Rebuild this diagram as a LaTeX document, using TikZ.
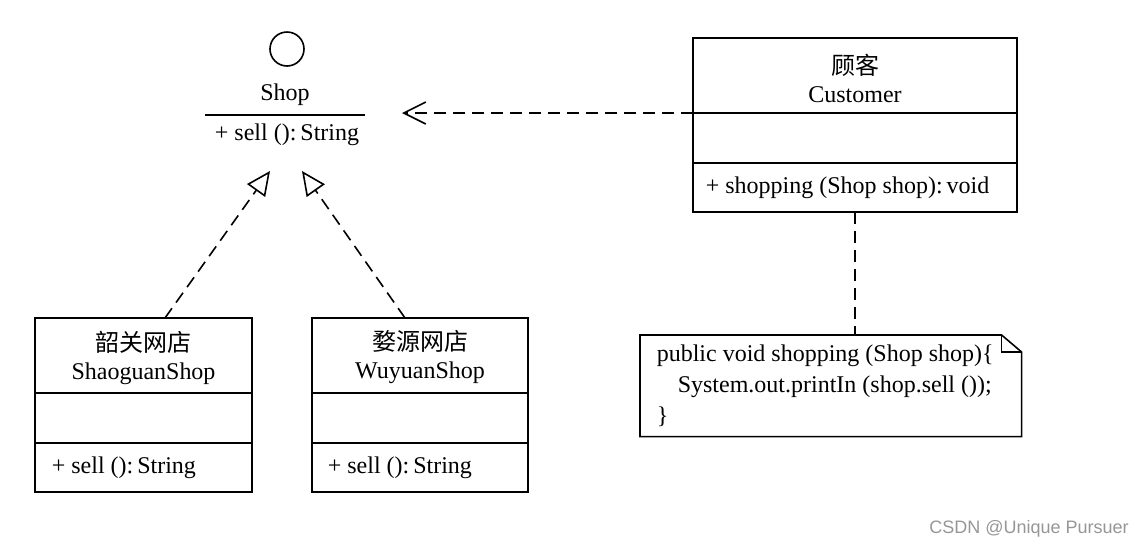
\documentclass[tikz,border=0pt]{standalone}
\usepackage{fontspec}
\setmainfont{Liberation Serif}
\newfontfamily\cjk{Noto Sans CJK SC}
\newfontfamily\wmfont{Liberation Sans}
\usetikzlibrary{arrows.meta}
\definecolor{wmgray}{RGB}{150,150,150}

\begin{document}
\begin{tikzpicture}[x=0.5pt,y=-0.5pt,
    line width=0.8pt,
    font=\fontsize{12}{14}\selectfont,
    classpart/.style ={draw, rectangle, anchor=north west, inner sep=0pt, outer sep=0pt},
    classname/.style ={align=center, inner sep=0pt},
    member/.style ={anchor=west, inner sep=0pt},
    dashline/.style ={dash pattern=on 6pt off 3.5pt},
    realizes/.style ={dashline, -{Triangle[open,length=12pt,width=11pt]}},
    depends/.style ={dashline, -{Straight Barb[length=11pt,width=11pt]}}]
   \useasboundingbox (0,0) rectangle (1148,547);

   % interface Shop
   \node[draw, circle, minimum size=17pt, inner sep=0pt] (shopIcon) at (287,49) {};
   \node[classname] (shopName) at (285,95) {Shop};
   \coordinate (barL) at (205,115);
   \coordinate (barR) at (365,115);
   \draw (barL) -- (barR);
   \node[classname] (shopOps) at (287,135) {+ sell ():\,String};
   \coordinate (shopLeft) at (270,171);
   \coordinate (shopRight) at (302,171);
   \coordinate (shopDep) at (402,113);

   % Customer
   \node[classpart, minimum width=162pt, minimum height=37.5pt] (custTitle) at (693,38)  {};
   \node[classpart, minimum width=162pt, minimum height=25pt] (custAttr) at (693,113)  {};
   \node[classpart, minimum width=162pt, minimum height=24.5pt] (custOps) at (693,163)  {};
   \node[classname] at ([yshift=-1.5pt]custTitle.center) {{\cjk 顾客}\\Customer};
   \node[member] at ([xshift=6pt]custOps.west) {+ shopping (Shop shop):\,void};

   % ShaoguanShop
   \node[classpart, minimum width=108.5pt, minimum height=37.5pt] (sgTitle) at (35,318)  {};
   \node[classpart, minimum width=108.5pt, minimum height=25pt] (sgAttr) at (35,393)  {};
   \node[classpart, minimum width=108.5pt, minimum height=24.5pt] (sgOps) at (35,443)  {};
   \node[classname] at ([yshift=-1pt]sgTitle.center) {{\cjk 韶关网店}\\ShaoguanShop};
   \node[member] at ([xshift=8pt]sgOps.west) {+ sell ():\,String};
   \coordinate (sgTop) at (165,318);

   % WuyuanShop
   \node[classpart, minimum width=108pt, minimum height=37.5pt] (wyTitle) at (312,318)  {};
   \node[classpart, minimum width=108pt, minimum height=25pt] (wyAttr) at (312,393)  {};
   \node[classpart, minimum width=108pt, minimum height=24.5pt] (wyOps) at (312,443)  {};
   \node[classname] at ([yshift=-1pt]wyTitle.center) {{\cjk 婺源网店}\\WuyuanShop};
   \node[member] at ([xshift=7.5pt]wyOps.west) {+ sell ():\,String};
   \coordinate (wyTop) at (405,318);

   % note
   \node[anchor=north west, minimum width=190pt, minimum height=50pt, inner sep=0pt] (note) at (640,335) {};
   \draw (note.north west) -- ([xshift=-10pt]note.north east) -- ([yshift=-8.5pt]note.north east)
      -- (note.south east) -- (note.south west) -- cycle;
   \draw ([xshift=-10pt]note.north east) |- ([yshift=-8.5pt]note.north east);
   \node[member, align=left, font=\fontsize{12}{15.5}\selectfont] (noteText) at (656,386)
      {public void shopping (Shop shop)\{\\\hspace*{10.5pt}System.out.printIn (shop.sell ());\\\}};

   \draw[realizes] (sgTop) to (shopLeft);
   \draw[realizes] (wyTop) to (shopRight);
   \draw[depends] (custTitle.south west) to (shopDep);
   \draw[dashline] (custOps.south) to (custOps.south |- note.north);

   \node[font=\wmfont\fontsize{9}{11}\selectfont, text=wmgray] (mark) at (1029,529) {CSDN @Unique Pursuer};
 \end{tikzpicture}
\end{document}
